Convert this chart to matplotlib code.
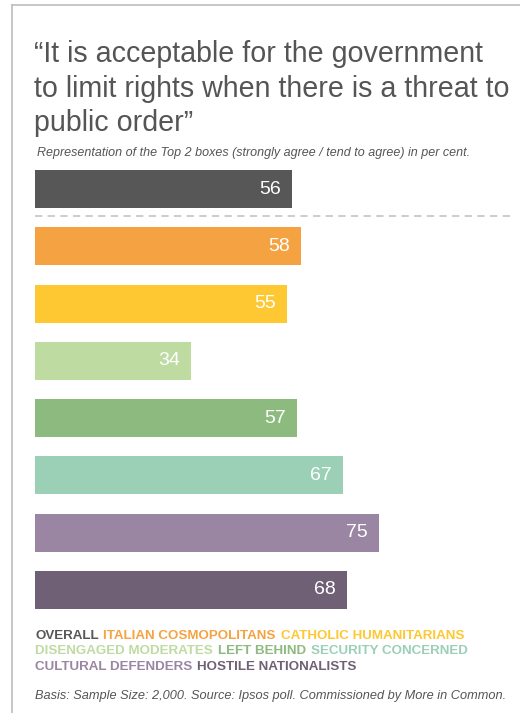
import matplotlib
matplotlib.use("Agg")
import matplotlib.pyplot as plt
from matplotlib.lines import Line2D

categories = ["OVERALL", "ITALIAN COSMOPOLITANS", "CATHOLIC HUMANITARIANS",
              "DISENGAGED MODERATES", "LEFT BEHIND", "SECURITY CONCERNED",
              "CULTURAL DEFENDERS", "HOSTILE NATIONALISTS"]
values = [56, 58, 55, 34, 57, 67, 75, 68]
colors = ["#575757", "#F5A342", "#FDC832", "#BEDBA1", "#8DBA7F", "#9BD0B7",
          "#9A85A3", "#6F6076"]
legend_rows = [[0, 1, 2], [3, 4, 5], [6, 7]]

title_lines = ["\u201cIt is acceptable for the government",
               "to limit rights when there is a threat to",
               "public order\u201d"]
subtitle = "Representation of the Top 2 boxes (strongly agree / tend to agree) in per cent."
footer = "Basis: Sample Size: 2,000. Source: Ipsos poll. Commissioned by More in Common."

plt.rcParams['font.family'] = ['Liberation Sans', 'DejaVu Sans']

W, H = 520, 713
fig = plt.figure(figsize=(W / 100, H / 100), dpi=100)
fig.patch.set_facecolor("white")

def fx(px):
    return px / W

def fy(py):
    return 1 - py / H

# border lines
fig.add_artist(Line2D([fx(12), fx(520)], [fy(5), fy(5)], color="#BDBDBD", lw=1.2))
fig.add_artist(Line2D([fx(12), fx(12)], [fy(5), fy(713)], color="#BDBDBD", lw=1.2))

# title
for line, base in zip(title_lines, [62, 97, 131]):
    fig.text(fx(34), fy(base), line, ha="left", va="baseline", fontsize=20.6,
             color="#555555")
fig.text(fx(37), fy(153), subtitle, ha="left", va="center", fontsize=9,
         style="italic", color="#555555")

# bars
ax = fig.add_axes([fx(35), fy(618.6), 459 / W, (618.6 - 160.4) / H])
ypos = list(range(len(values)))
ax.barh(ypos, values, height=0.665, color=colors)
ax.set_xlim(0, 100)
ax.set_ylim(len(values) - 0.5, -0.5)
ax.axis("off")
for y, v in zip(ypos, values):
    ax.annotate(str(v), xy=(v, y), xytext=(-8, 0), textcoords="offset points",
                ha="right", va="center", color="white", fontsize=14)
ax.plot([0, 103.5], [0.47, 0.47], ls=(0, (4, 3)), color="#C8C8C8", lw=1.3,
        clip_on=False)

# legend (coloured words flowing left to right)
row_y = [636, 651.5, 666.5]
for r, idxs in zip(row_y, legend_rows):
    prev = None
    for i in idxs:
        if prev is None:
            prev = fig.text(fx(35), fy(r), categories[i], ha="left", va="center",
                            fontsize=9.6, fontweight="bold", color=colors[i])
        else:
            prev = fig.add_artist(matplotlib.text.Annotation(
                categories[i], xy=(1, 0.5), xycoords=prev,
                xytext=(3.5, 0), textcoords="offset points",
                ha="left", va="center", fontsize=9.6,
                fontweight="bold", color=colors[i], annotation_clip=False))

fig.text(fx(35), fy(696), footer, ha="left", va="center", fontsize=9.2,
         style="italic", color="#555555")

fig.savefig("out.png", dpi=100, facecolor="white")
